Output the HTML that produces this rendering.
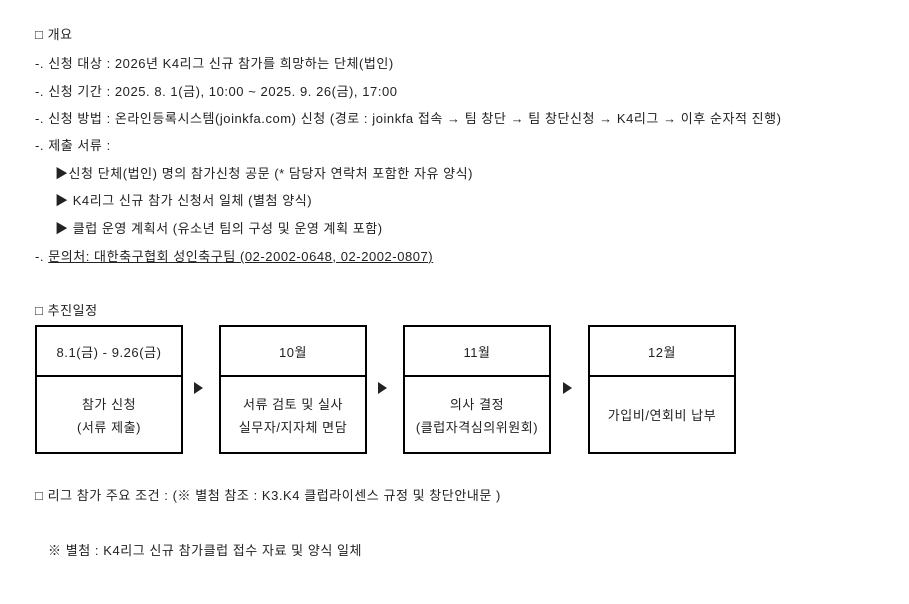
<!DOCTYPE html>
<html><head><meta charset="utf-8"><style>
body{margin:0;background:#fff;width:909px;height:604px;overflow:hidden;font-family:"Liberation Sans","Noto Sans CJK KR","NanumGothic",sans-serif;font-size:13px;letter-spacing:0.55px;color:#222;}
.t{position:absolute;left:35px;white-space:nowrap;line-height:16px;}
.b{position:absolute;border:2px solid #000;box-sizing:border-box;width:148px;height:129px;}
.b .h{height:48px;border-bottom:2px solid #000;display:flex;align-items:center;justify-content:center;}
.b .c{height:77px;display:flex;align-items:center;justify-content:center;text-align:center;line-height:23px;}
.a{position:absolute;top:382px;width:0;height:0;border-left:9px solid #222;border-top:6px solid transparent;border-bottom:6px solid transparent;}
</style></head><body>
<div class="t" style="top:27px">□ 개요</div>
<div class="t" style="top:56px">-. 신청 대상 : 2026년 K4리그 신규 참가를 희망하는 단체(법인)</div>
<div class="t" style="top:84px">-. 신청 기간 : 2025. 8. 1(금), 10:00 ~ 2025. 9. 26(금), 17:00</div>
<div class="t" style="top:111px">-. 신청 방법 : 온라인등록시스템(joinkfa.com) 신청 (경로 : joinkfa 접속 → 팀 창단 → 팀 창단신청 → K4리그 → 이후 순자적 진행)</div>
<div class="t" style="top:138px">-. 제출 서류 :</div>
<div class="t" style="top:166px;left:55px">▶신청 단체(법인) 명의 참가신청 공문 (* 담당자 연락처 포함한 자유 양식)</div>
<div class="t" style="top:193px;left:55px">▶ K4리그 신규 참가 신청서 일체 (별첨 양식)</div>
<div class="t" style="top:221px;left:55px">▶ 클럽 운영 계획서 (유소년 팀의 구성 및 운영 계획 포함)</div>
<div class="t" style="top:249px">-. <u>문의처: 대한축구협회 성인축구팀 (02-2002-0648, 02-2002-0807)</u></div>
<div class="t" style="top:303px">□ 추진일정</div>
<div class="b" style="left:35px;top:325px"><div class="h">8.1(금) - 9.26(금)</div><div class="c">참가 신청<br>(서류 제출)</div></div>
<div class="a" style="left:194px"></div>
<div class="b" style="left:219px;top:325px"><div class="h">10월</div><div class="c">서류 검토 및 실사<br>실무자/지자체 면담</div></div>
<div class="a" style="left:378px"></div>
<div class="b" style="left:403px;top:325px"><div class="h">11월</div><div class="c">의사 결정<br>(클럽자격심의위원회)</div></div>
<div class="a" style="left:563px"></div>
<div class="b" style="left:588px;top:325px"><div class="h">12월</div><div class="c">가입비/연회비 납부</div></div>
<div class="t" style="top:488px">□ 리그 참가 주요 조건 : (※ 별첨 참조 : K3.K4 클럽라이센스 규정 및 창단안내문 )</div>
<div class="t" style="top:543px;left:48px">※ 별첨 : K4리그 신규 참가클럽 접수 자료 및 양식 일체</div>
</body></html>
